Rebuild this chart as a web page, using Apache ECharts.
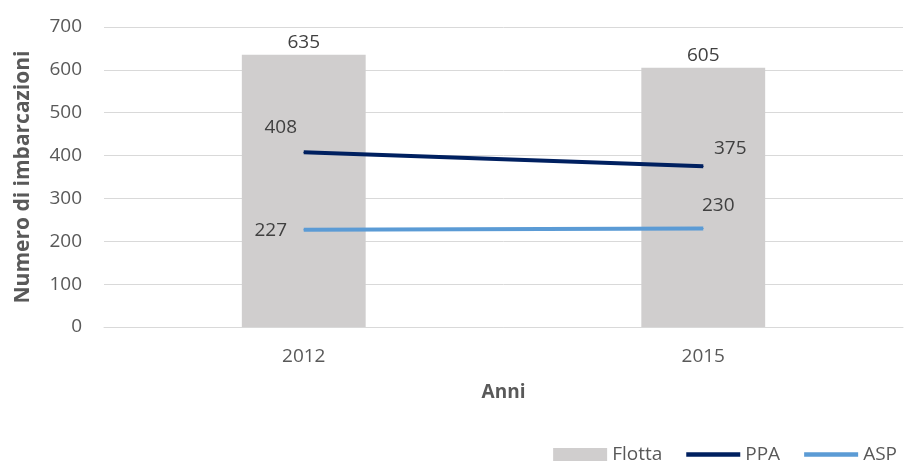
<!DOCTYPE html>
<html><head><meta charset="utf-8">
<script src="https://cdn.jsdelivr.net/npm/echarts@6/dist/echarts.min.js"></script>
<style>html,body{margin:0;padding:0;background:#fff}#c{width:904px;height:469px}</style>
</head><body><div id="c"></div>
<script>
var categories = ['2012', '2015'];
var flotta = [635, 605];
var ppa = [408, 375];
var asp = [227, 230];
var yTicks = [0, 100, 200, 300, 400, 500, 600, 700];

var font = 'Open Sans';
var txt = '#404040';
var lineIcon = 'path://M0,3 L50,3 L50,7 L0,7 Z';
var chart = echarts.init(document.getElementById('c'));
chart.setOption({
  animation: false,
  textStyle: {fontFamily: font},
  grid: {left: 104, right: 1, top: 27, bottom: 142, containLabel: false},
  legend: {
    right: 2, bottom: 0, itemGap: 24, itemWidth: 54, itemHeight: 13,
    textStyle: {color: '#595959', fontSize: 19, fontFamily: font},
    data: [
      {name: 'Flotta', icon: 'rect'},
      {name: 'PPA', icon: lineIcon},
      {name: 'ASP', icon: lineIcon}
    ]
  },
  xAxis: {
    type: 'category', data: categories,
    name: 'Anni', nameLocation: 'middle', nameGap: 56,
    nameTextStyle: {fontWeight: 'bold', fontSize: 19, color: '#595959'},
    axisLine: {show: true, lineStyle: {color: '#d9d9d9'}},
    axisTick: {show: false},
    axisLabel: {color: '#595959', fontSize: 19, margin: 20}
  },
  yAxis: {
    type: 'value', min: 0, max: 700, interval: 100,
    name: 'Numero di imbarcazioni', nameLocation: 'middle', nameGap: 70,
    nameTextStyle: {fontWeight: 'bold', fontSize: 21, color: '#595959'},
    axisLabel: {color: '#595959', fontSize: 19, margin: 22},
    splitLine: {lineStyle: {color: '#d9d9d9'}},
    axisLine: {show: false}, axisTick: {show: false}
  },
  series: [
    {
      name: 'Flotta', type: 'bar', data: flotta, barWidth: '31%',
      itemStyle: {color: '#d0cece'},
      label: {show: true, position: 'top', color: txt, fontSize: 19, distance: 3}
    },
    {
      name: 'PPA', type: 'line', symbol: 'circle', symbolSize: 1, showSymbol: true,
      lineStyle: {width: 4, color: '#002060'},
      itemStyle: {color: '#002060'},
      label: {show: true, position: 'inside', color: txt, fontSize: 19},
      data: [
        {value: ppa[0], label: {offset: [-23, -25]}},
        {value: ppa[1], label: {offset: [27, -18]}}
      ]
    },
    {
      name: 'ASP', type: 'line', symbol: 'circle', symbolSize: 1, showSymbol: true,
      lineStyle: {width: 4, color: '#5b9bd5'},
      itemStyle: {color: '#5b9bd5'},
      label: {show: true, position: 'inside', color: txt, fontSize: 19},
      data: [
        {value: asp[0], label: {offset: [-33, 1]}},
        {value: asp[1], label: {offset: [15, -23]}}
      ]
    }
  ]
});
</script></body></html>
